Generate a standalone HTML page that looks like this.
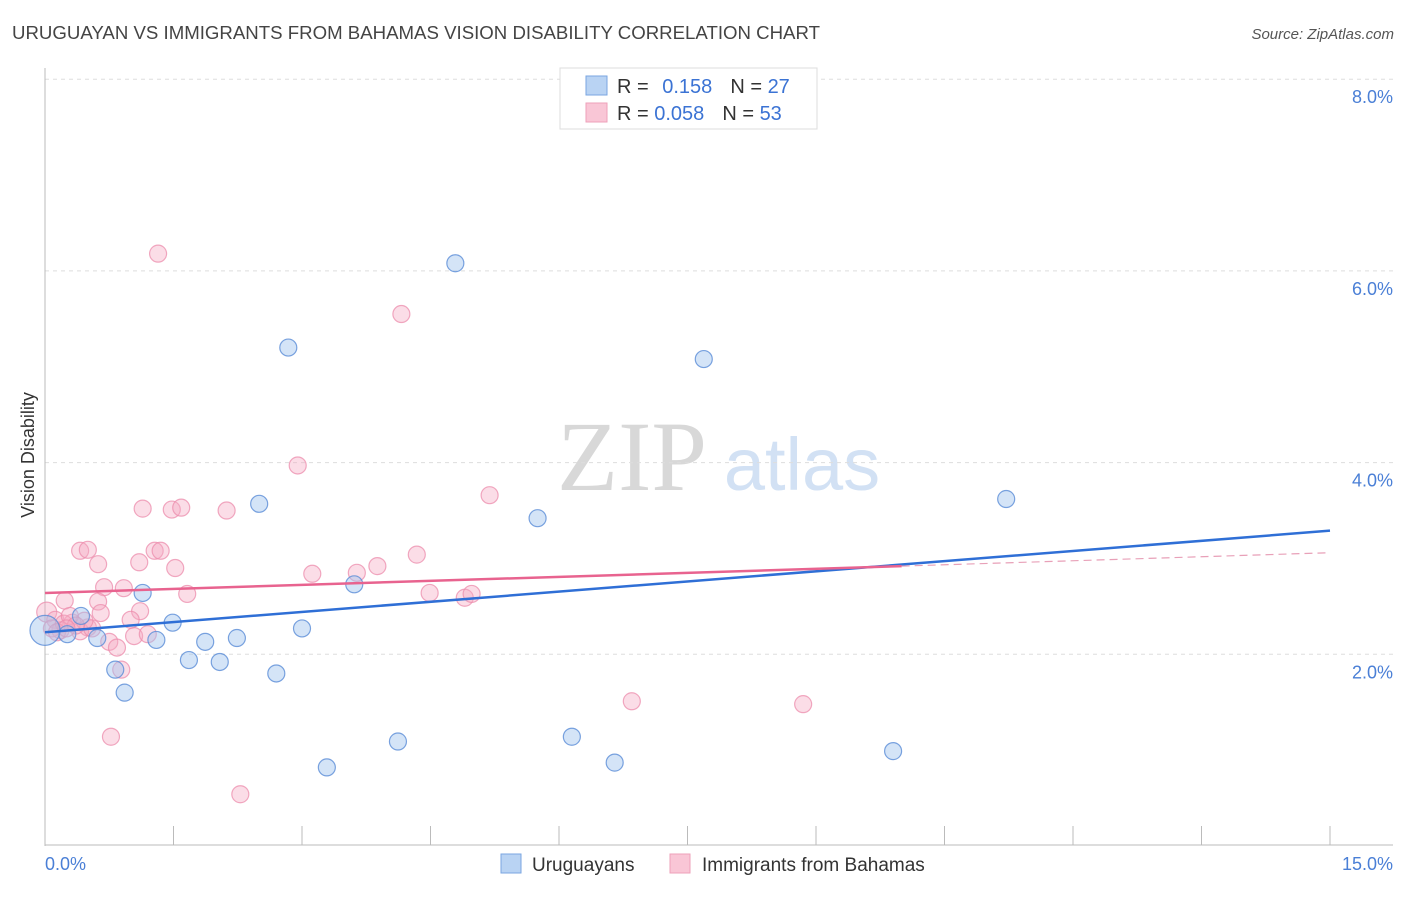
<!DOCTYPE html>
<html><head><meta charset="utf-8">
<style>
body{margin:0;background:#fff;font-family:"Liberation Sans",sans-serif;}
svg text{font-family:"Liberation Sans",sans-serif;}
</style></head>
<body>
<svg id="chart" width="1406" height="892" viewBox="0 0 1406 892" xmlns="http://www.w3.org/2000/svg">
<text x="12" y="39" font-size="18" fill="#444" textLength="808" lengthAdjust="spacingAndGlyphs">URUGUAYAN VS IMMIGRANTS FROM BAHAMAS VISION DISABILITY CORRELATION CHART</text>
<text x="1394" y="39" font-size="15" fill="#555" font-style="italic" text-anchor="end">Source: ZipAtlas.com</text>
<g>
<text x="632" y="490" font-size="100" fill="#d8d8d8" text-anchor="middle" style="font-family:'Liberation Serif',serif">ZIP</text>
<text x="802" y="490" font-size="74" fill="#d2e1f4" text-anchor="middle">atlas</text>
</g>
<g id="grid"></g>
<g id="axes"></g>
<g id="marks"></g>
<text transform="translate(34,455) rotate(-90)" font-size="18" fill="#333" text-anchor="middle">Vision Disability</text>
<g>
<rect x="560" y="68" width="257" height="61" fill="#fff" stroke="#ddd"/>
<rect x="586" y="76" width="21" height="19" fill="#b9d3f3" stroke="#7aa6e0"/>
<rect x="586" y="103" width="21" height="19" fill="#f9c6d6" stroke="#eea0ba"/>
<text x="617" y="93" font-size="20" fill="#333">R = <tspan fill="#3b73d4" dx="8">0.158</tspan><tspan dx="18" fill="#333">N = </tspan><tspan fill="#3b73d4">27</tspan></text>
<text x="617" y="120" font-size="20" fill="#333">R = <tspan fill="#3b73d4">0.058</tspan><tspan dx="18" fill="#333">N = </tspan><tspan fill="#3b73d4">53</tspan></text>
</g>
<g>
<rect x="501" y="854" width="20" height="19" fill="#b9d3f3" stroke="#7aa6e0"/>
<text x="532" y="871" font-size="19" fill="#333">Uruguayans</text>
<rect x="670" y="854" width="20" height="19" fill="#f9c6d6" stroke="#eea0ba"/>
<text x="702" y="871" font-size="19" fill="#333">Immigrants from Bahamas</text>
</g>
</svg>
<script>
const yTicks=[2,4,6,8];
const yTickLabels=["2.0%","4.0%","6.0%","8.0%"];
const xTicks=[0,1.5,3,4.5,6,7.5,9,10.5,12,13.5,15];
const xTickLabels=["0.0%","15.0%"];
const blueX=[4.79,2.84,7.69,11.22,2.50,5.75,3.61,1.14,1.49,3.00,2.24,1.87,1.30,0.61,0.26,0.42,1.68,2.04,0.82,2.70,0.93,6.15,4.12,9.90,6.65,3.29,0];
const blueY=[6.08,5.20,5.08,3.62,3.57,3.42,2.73,2.64,2.33,2.27,2.17,2.13,2.15,2.17,2.21,2.40,1.94,1.92,1.84,1.80,1.60,1.14,1.09,0.99,0.87,0.82,2.25];
const pinkX=[1.32,4.16,2.95,5.19,1.14,1.48,1.59,2.12,0.41,0.50,0.62,1.28,1.35,1.10,4.34,3.88,3.12,3.64,1.52,0.92,0.69,1.66,4.49,4.90,4.98,0.23,0.62,0.65,1.11,1.00,0.02,0.12,0.32,0.50,0.18,0.41,0.55,1.04,1.20,0.75,0.84,0.89,0.77,2.28,6.85,8.85,0.08,0.22,0.46,0.29,0.14,0.36,0.25];
const pinkY=[6.18,5.55,3.97,3.66,3.52,3.51,3.53,3.50,3.08,3.09,2.94,3.08,3.08,2.96,3.04,2.92,2.84,2.85,2.90,2.69,2.70,2.63,2.64,2.59,2.63,2.56,2.55,2.43,2.45,2.36,2.44,2.36,2.33,2.28,2.25,2.24,2.27,2.19,2.21,2.13,2.07,1.84,1.14,0.54,1.51,1.48,2.27,2.32,2.35,2.40,2.23,2.30,2.27];
const blueTrendX=[0,15];
const blueTrendY=[2.23,3.29];
const pinkTrendX=[0,10,15];
const pinkTrendY=[2.64,2.92,3.06];

const NS="http://www.w3.org/2000/svg";
const sx=v=>45+v/15*1285;
const sy=v=>846-v*95.85;
function mk(tag,parent,attrs){const e=document.createElementNS(NS,tag);for(const k in attrs)e.setAttribute(k,attrs[k]);parent.appendChild(e);return e;}
const grid=document.getElementById('grid'),axes=document.getElementById('axes'),marks=document.getElementById('marks');
yTicks.forEach((t,i)=>{
  const l=mk('line',grid,{x1:45,x2:1393,y1:sy(t),y2:sy(t),stroke:'#ddd','stroke-dasharray':'4,4'});
  
  
  const tx=mk('text',axes,{x:1393,y:sy(t)+24,'font-size':18,fill:'#4a7fd6','text-anchor':'end'});
  tx.textContent=yTickLabels[i];
  
  
});
const ax=mk('line',axes,{x1:45,x2:45,y1:68,y2:846,stroke:'#bbb'});


const bx=mk('line',axes,{x1:45,x2:1393,y1:845,y2:845,stroke:'#bbb'});


xTicks.forEach(t=>{
  const l=mk('line',axes,{x1:sx(t),x2:sx(t),y1:826,y2:845,stroke:'#bbb'});
  
  
});
const xl0=mk('text',axes,{x:45,y:870,'font-size':18,fill:'#4a7fd6'});
xl0.textContent=xTickLabels[0];


const xl1=mk('text',axes,{x:1393,y:870,'font-size':18,fill:'#4a7fd6','text-anchor':'end'});
xl1.textContent=xTickLabels[1];



pinkX.forEach((v,i)=>{
  const c=mk('circle',marks,{cx:sx(v),cy:sy(pinkY[i]),r:i===30?10:8.5,fill:'rgba(246,170,195,0.4)',stroke:'rgba(236,140,172,0.75)','stroke-width':1.2});
  
  
});
blueX.forEach((v,i)=>{
  const c=mk('circle',marks,{cx:sx(v),cy:sy(blueY[i]),r:i===26?15:8.5,fill:'rgba(160,195,238,0.45)',stroke:'rgba(90,140,215,0.8)','stroke-width':1.2});
  
  
});
const bt=mk('line',marks,{x1:sx(blueTrendX[0]),y1:sy(blueTrendY[0]),x2:sx(blueTrendX[1]),y2:sy(blueTrendY[1]),stroke:'#2f6fd6','stroke-width':2.5});


const pt=mk('line',marks,{x1:sx(pinkTrendX[0]),y1:sy(pinkTrendY[0]),x2:sx(pinkTrendX[1]),y2:sy(pinkTrendY[1]),stroke:'#e8638f','stroke-width':2.5});


const pd=mk('line',marks,{x1:sx(pinkTrendX[1]),y1:sy(pinkTrendY[1]),x2:sx(pinkTrendX[2]),y2:sy(pinkTrendY[2]),stroke:'#e8a0b8','stroke-width':1.2,'stroke-dasharray':'8,5'});


</script>
</body></html>
